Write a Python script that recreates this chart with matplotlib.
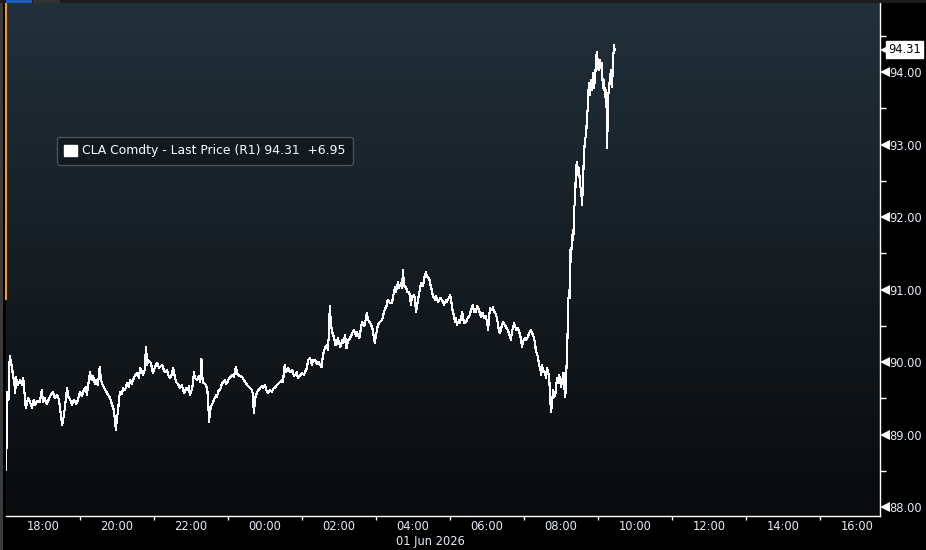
import numpy as np
import matplotlib
matplotlib.use("Agg")
import matplotlib.pyplot as plt
from matplotlib.patches import Rectangle, Patch
import matplotlib.transforms as mtransforms

# ---- data (minutes after 17:00 on 31 May 2026, price) ----
minutes = [0, 1, 2, 4, 6, 8, 10, 11, 13, 15, 16, 19, 23, 26, 28, 31, 32, 36, 39, 42,
           45, 47, 50, 55, 58, 60, 63, 66, 71, 76, 79, 83, 86, 88, 91, 94, 96, 99, 101, 104,
           107, 110, 114, 117, 120, 123, 126, 130, 131, 135, 136, 139, 141, 144, 146, 149, 152, 154, 157, 161,
           164, 167, 169, 172, 174, 177, 178, 180, 182, 183, 185, 188, 190, 193, 196, 199, 201, 204, 206, 209,
           212, 216, 217, 221, 222, 225, 227, 229, 230, 234, 237, 238, 242, 245, 248, 253, 256, 258, 261, 263,
           266, 269, 271, 274, 276, 279, 282, 285, 289, 292, 294, 297, 298, 302, 305, 306, 310, 313, 315, 317,
           319, 323, 326, 328, 329, 331, 332, 336, 337, 341, 342, 345, 347, 350, 355, 357, 359, 362, 363, 366,
           370, 371, 373, 375, 376, 379, 383, 386, 389, 392, 396, 399, 400, 402, 404, 405, 409, 412, 415, 417,
           420, 422, 425, 428, 431, 434, 436, 439, 444, 448, 449, 452, 454, 457, 461, 464, 467, 469, 472, 473,
           477, 480, 483, 485, 488, 490, 493, 496, 498, 501, 504, 507, 509, 512, 514, 517, 520, 522, 524, 525,
           527, 529, 532, 534, 537, 538, 542, 545, 547, 550, 552, 555, 558, 561, 564, 568, 569, 573, 574, 576,
           577, 581, 582, 584, 585, 587, 590, 594, 595, 597, 598, 600, 603, 606, 610, 613, 615, 618, 619, 623,
           626, 628, 631, 632, 636, 637, 641, 642, 644, 645, 649, 650, 654, 655, 657, 658, 662, 663, 665, 667,
           668, 671, 673, 676, 678, 679, 681, 683, 686, 688, 691, 692, 696, 697, 701, 704, 705, 709, 710, 714,
           715, 718, 720, 722, 723, 726, 728, 730, 731, 735, 736, 740, 741, 743, 746, 749, 752, 754, 757, 759,
           762, 764, 766, 769, 770, 773, 775, 778, 780, 782, 783, 785, 788, 790, 791, 793, 796, 798, 799, 801,
           804, 806, 809, 811, 814, 815, 817, 819, 820, 824, 825, 828, 830, 834, 835, 837, 838, 842, 843, 846,
           848, 851, 853, 856, 858, 859, 861, 863, 864, 866, 868, 869, 871, 874, 876, 877, 879, 881, 882, 884,
           886, 887, 889, 891, 892, 894, 895, 897, 899, 900, 902, 904, 905, 907, 908, 910, 912, 913, 914,
           915, 916, 918, 920, 921, 923, 924, 926, 928, 929, 931, 933, 934, 936, 937, 939, 941, 942, 944, 945,
           947, 949, 950, 952, 953, 955, 957, 958, 960, 961, 963, 965, 966, 968, 970, 971, 973, 974, 975, 976,
           978, 979, 981, 983, 984, 986, 987]
prices = [88.51, 88.92, 89.59, 89.48, 90.08, 90.00, 89.93, 89.82, 89.75, 89.57, 89.79, 89.68, 89.75, 89.68, 89.78, 89.48, 89.37, 89.50, 89.45, 89.37,
          89.48, 89.41, 89.46, 89.45, 89.61, 89.45, 89.50, 89.42, 89.52, 89.59, 89.50, 89.54, 89.48, 89.34, 89.13, 89.27, 89.41, 89.64, 89.52, 89.48,
          89.41, 89.48, 89.42, 89.49, 89.59, 89.53, 89.61, 89.66, 89.54, 89.78, 89.86, 89.75, 89.81, 89.70, 89.75, 89.68, 89.93, 89.75, 89.68, 89.61,
          89.57, 89.53, 89.50, 89.41, 89.37, 89.20, 89.06, 89.23, 89.34, 89.48, 89.59, 89.56, 89.64, 89.61, 89.71, 89.66, 89.75, 89.70, 89.75, 89.81,
          89.85, 89.78, 89.92, 89.86, 89.82, 89.89, 90.21, 89.96, 90.03, 90.00, 89.92, 89.85, 89.94, 89.99, 89.92, 89.96, 89.89, 89.86, 89.89, 89.82,
          89.78, 89.83, 89.92, 89.79, 89.72, 89.70, 89.64, 89.68, 89.57, 89.64, 89.61, 89.67, 89.54, 89.64, 89.86, 89.78, 89.75, 89.81, 89.72, 90.04,
          89.72, 89.70, 89.64, 89.48, 89.17, 89.31, 89.38, 89.45, 89.48, 89.54, 89.52, 89.61, 89.61, 89.70, 89.75, 89.70, 89.72, 89.78, 89.78, 89.82,
          89.79, 89.86, 89.93, 89.85, 89.82, 89.81, 89.79, 89.75, 89.71, 89.67, 89.64, 89.61, 89.57, 89.30, 89.48, 89.54, 89.61, 89.64, 89.67, 89.64,
          89.68, 89.61, 89.57, 89.61, 89.59, 89.64, 89.64, 89.68, 89.72, 89.75, 89.72, 89.96, 89.86, 89.92, 89.86, 89.89, 89.81, 89.82, 89.86, 89.78,
          89.81, 89.85, 89.82, 89.86, 89.92, 90.03, 90.06, 89.96, 90.03, 90.03, 89.97, 90.00, 89.96, 89.93, 90.10, 90.19, 90.23, 90.17, 90.44, 90.77,
          90.51, 90.41, 90.34, 90.23, 90.26, 90.33, 90.21, 90.30, 90.26, 90.37, 90.19, 90.30, 90.33, 90.39, 90.44, 90.36, 90.41, 90.33, 90.40, 90.47,
          90.55, 90.50, 90.54, 90.61, 90.68, 90.58, 90.55, 90.47, 90.41, 90.33, 90.26, 90.37, 90.51, 90.55, 90.58, 90.69, 90.74, 90.79, 90.86, 90.81,
          90.82, 90.92, 91.03, 90.97, 91.10, 91.02, 91.09, 91.02, 91.27, 91.06, 91.03, 90.97, 90.97, 90.88, 90.79, 90.91, 90.92, 90.86, 90.69, 90.79,
          90.86, 90.99, 91.09, 91.05, 91.13, 91.19, 91.24, 91.17, 91.16, 91.08, 90.97, 90.91, 90.86, 90.91, 90.83, 90.88, 90.88, 90.83, 90.79, 90.86,
          90.83, 90.88, 90.92, 90.86, 90.76, 90.65, 90.55, 90.61, 90.51, 90.58, 90.54, 90.69, 90.61, 90.54, 90.55, 90.61, 90.65, 90.72, 90.79, 90.69,
          90.69, 90.77, 90.74, 90.66, 90.62, 90.68, 90.61, 90.64, 90.55, 90.44, 90.61, 90.74, 90.72, 90.76, 90.69, 90.69, 90.61, 90.51, 90.44, 90.40,
          90.50, 90.55, 90.51, 90.48, 90.44, 90.41, 90.36, 90.30, 90.40, 90.54, 90.50, 90.44, 90.47, 90.37, 90.30, 90.21, 90.28, 90.33, 90.30, 90.34,
          90.39, 90.44, 90.40, 90.34, 90.26, 90.17, 90.11, 90.06, 89.97, 89.92, 89.82, 89.96, 89.89, 89.85, 89.78, 89.92, 89.86, 89.78, 89.54, 89.31,
          89.48, 89.61, 89.52, 89.57, 89.68, 89.78, 89.71, 89.82, 89.72, 89.66, 89.75, 89.85, 89.68, 89.52, 89.75, 90.17, 90.86, 91.00, 90.88, 91.54,
          91.38, 91.75, 91.68, 92.10, 92.23, 92.65, 92.76, 92.58, 92.68, 92.44, 92.34, 92.17, 92.51, 92.86, 93.06, 93.16, 93.38, 93.54, 93.85, 93.68,
          93.89, 93.75, 93.99, 93.78, 93.89, 94.17, 94.28, 94.10, 94.03, 94.17, 94.06, 94.12, 93.78, 93.89, 93.66, 93.75, 93.48, 92.95, 93.66, 93.75,
          93.89, 94.03, 93.79, 94.12, 94.37, 94.31]

tick_hours = ["18:00", "20:00", "22:00", "00:00", "02:00", "04:00", "06:00", "08:00",
              "10:00", "12:00", "14:00", "16:00"]
y_levels = [88, 89, 90, 91, 92, 93, 94]
date_label = "01 Jun 2026"
legend_text = "CLA Comdty - Last Price (R1) 94.31  +6.95"
last_price = 94.31

W, H = 926, 550
fig = plt.figure(figsize=(W / 100, H / 100), dpi=100, facecolor="black")
ax = fig.add_axes([6 / W, 34 / H, 874 / W, 513 / H])

XMAX = 874 * 60 / 37
YMIN, YMAX = 87.876, 94.952

# gradient background
grad = np.linspace(0, 1, 256).reshape(-1, 1)
top = np.array([0x22, 0x30, 0x3a]) / 255
bot = np.array([0x09, 0x0b, 0x0d]) / 255
img = top[None, None, :] * (1 - grad[:, :, None]) + bot[None, None, :] * grad[:, :, None]
ax.imshow(img, extent=[0, 1, 0, 1], transform=ax.transAxes, aspect="auto", zorder=0)

ax.plot(minutes, prices, color="white", lw=0.8, zorder=3, antialiased=False)

# spines
for s in ["top", "left"]:
    ax.spines[s].set_visible(False)
for s in ["bottom", "right"]:
    ax.spines[s].set_color("white")
    ax.spines[s].set_linewidth(1.0)

txtcol = "#e4ebf5"
# x ticks
major_x = [60 + 120 * i for i in range(len(tick_hours))]
minor_x = [m for m in (120 + 120 * i for i in range(len(tick_hours))) if m < XMAX]
ax.set_xticks(major_x)
ax.set_xticklabels(tick_hours)
ax.set_xticks(minor_x, minor=True)
ax.tick_params(axis="x", which="major", length=0, pad=3, labelsize=8.3, labelcolor=txtcol)
ax.tick_params(axis="x", which="minor", length=3, width=1, color="white", direction="out")

# y ticks on right
ax.yaxis.tick_right()
ax.set_yticks(y_levels)
ax.set_yticklabels([f"{v:.2f}" for v in y_levels])
ax.set_yticks([v + 0.5 for v in y_levels], minor=True)
ax.tick_params(axis="y", which="major", length=0, pad=7, labelsize=8.3, labelcolor=txtcol)
ax.tick_params(axis="y", which="minor", length=4, width=1, color="white", direction="out")
ax.tick_params(axis="y", which="both", left=False)

ax.set_xlim(0, XMAX)
ax.set_ylim(YMIN, YMAX)

trans = mtransforms.blended_transform_factory(ax.transAxes, ax.transData)
off = mtransforms.ScaledTranslation(4.5 / 100, 0, fig.dpi_scale_trans)
ax.plot([1.0] * len(y_levels), y_levels, ls="none", marker="<", ms=6.5, color="white",
        mec="white", mew=0, transform=trans + off, clip_on=False, zorder=5)

# last price tag
ax.text(1.0, last_price, f"{last_price:.2f}",
        transform=trans + mtransforms.ScaledTranslation(8 / 100, 0, fig.dpi_scale_trans),
        ha="left", va="center", fontsize=8.3, color="black", clip_on=False, zorder=6,
        bbox=dict(boxstyle="square,pad=0.2", fc="white", ec="white"))
ax.plot([1.0], [last_price], ls="none", marker="<", ms=7.5, color="white", mew=0,
        transform=trans + mtransforms.ScaledTranslation(5 / 100, 0, fig.dpi_scale_trans), clip_on=False, zorder=6)

# date label
fig.text(430 / W, 1 - 542 / H, date_label, ha="center", va="center", fontsize=8.3, color=txtcol)

# legend
leg = ax.legend(handles=[Patch(facecolor="white", edgecolor="white", label=legend_text)],
                loc="upper left", bbox_to_anchor=(57 / W, 1 - 137 / H), bbox_transform=fig.transFigure,
                borderaxespad=0, frameon=True, fancybox=True, fontsize=8.9, handlelength=1.0, handleheight=1.0,
                handletextpad=0.4, borderpad=0.6, labelcolor="white")
fr = leg.get_frame()
fr.set_facecolor("#111a20")
fr.set_edgecolor("#4a5258")
fr.set_alpha(1)
fr.set_linewidth(1)

# decorative edges: left gray bar and orange marker, top tab strip
fig.patches.append(Rectangle((0, 0), 3 / W, 1, transform=fig.transFigure, fc="#3a3a3a", ec="none"))
fig.patches.append(Rectangle((5 / W, 1 - 300 / H), 2 / W, 297 / H, transform=fig.transFigure, fc="#f39a1e", ec="none", zorder=5))
fig.patches.append(Rectangle((0, 1 - 3 / H), 1, 3 / H, transform=fig.transFigure, fc="#1c1c1c", ec="none"))
fig.patches.append(Rectangle((6 / W, 1 - 3 / H), 26 / W, 3 / H, transform=fig.transFigure, fc="#1f5bc4", ec="none"))
fig.patches.append(Rectangle((33 / W, 1 - 3 / H), 27 / W, 3 / H, transform=fig.transFigure, fc="#333333", ec="none"))

fig.savefig("out.png", dpi=100, facecolor="black")
